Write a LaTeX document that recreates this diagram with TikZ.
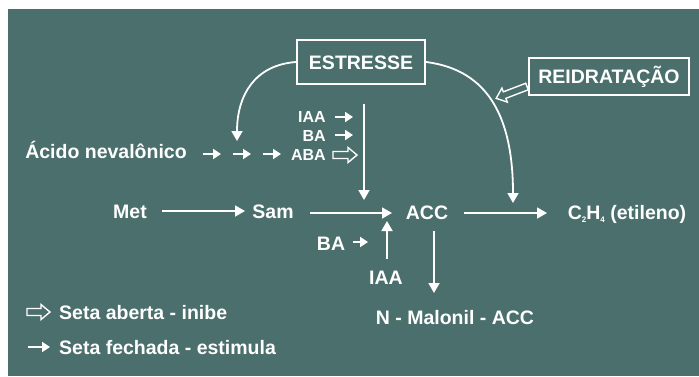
\documentclass[tikz,border=0pt]{standalone}
\usepackage{fontspec}
\setmainfont{Liberation Sans}
\usetikzlibrary{arrows.meta,calc}
\definecolor{bg}{RGB}{74,111,108}
\tikzset{
  lbl/.style={text=white,font=\fontsize{19.5}{20}\selectfont\bfseries,inner sep=0pt,text height=14pt,text depth=0pt},
  slbl/.style={text=white,font=\fontsize{16}{17}\selectfont\bfseries,inner sep=0pt,text height=11.5pt,text depth=0pt},
  box/.style={draw=white,line width=2pt},
  mainarrow/.style={draw=white,line width=1.8pt,-{Triangle[length=10pt,width=11pt]}},
  sarrow/.style={draw=white,line width=2.6pt,-{Triangle[length=8pt,width=10pt]}},
  hollowarrow/.pic={
    \draw[white,line width=1.4pt,fill=bg,line join=miter]
      (0,-3.5) -- (#1-9,-3.5) -- (#1-9,-7.5) -- (#1,0) -- (#1-9,7.5) -- (#1-9,3.5) -- (0,3.5) -- cycle;
  }
}
\begin{document}
\begin{tikzpicture}[x=1pt,y=-1pt]
\useasboundingbox (0,0) rectangle (699,376);
\fill[white] (0,0) rectangle (699,376);
\fill[bg] (8,9) rectangle (699,376);

% boxes
\node[box,lbl,minimum width=128pt,minimum height=44pt] (es) at (361,62) {ESTRESSE};
\node[box,lbl,minimum width=160pt,minimum height=37pt] (rei) at (609,76.5) {REIDRATAÇÃO};

% main labels
\node[lbl] (acid) at (106,151) {Ácido nevalônico};
\node[lbl] (met) at (130,211) {Met};
\node[lbl] (sam) at (273,211) {Sam};
\node[lbl] (acc) at (427,212) {ACC};
\node[lbl] (eth) at (627,212) {C\raisebox{-3pt}{\fontsize{8}{8}\selectfont 2}H\raisebox{-3pt}{\fontsize{8}{8}\selectfont 4} (etileno)};
\node[lbl] (ba2) at (331,243) {BA};
\node[lbl] (iaa2) at (386,277) {IAA};
\node[lbl] (mal) at (455,317) {N - Malonil - ACC};

% small labels
\node[slbl,anchor=east] (iaa1) at (326,117) {IAA};
\node[slbl,anchor=east] (ba1) at (326,136) {BA};
\node[slbl,anchor=east] (aba) at (326,155) {ABA};

% legend
\node[lbl,anchor=west] (leg1) at (59,312) {Seta aberta - inibe};
\node[lbl,anchor=west] (leg2) at (59,347) {Seta fechada - estimula};

% main pathway arrows
\draw[mainarrow] ($(met)+(32,0)$) -- ($(sam)+(-28,0)$);
\draw[mainarrow] ($(sam)+(37,2)$) -- ($(acc)+(-35,1)$);
\draw[mainarrow] ($(acc)+(37,1)$) -- ($(eth)+(-80,1)$);
\draw[mainarrow] ($(acc)+(7,19)$) -- ($(mal)+(-21,-24)$);
\coordinate (vtop) at (364,104);
\draw[mainarrow] (vtop) -- ($(acc)+(-63,-12)$);
\draw[mainarrow] ($(iaa2)+(1,-18)$) -- ($(acc)+(-40,9)$);

% curves from ESTRESSE
\draw[mainarrow] (es.west) .. controls (255,65) and (237,95) .. (237,141);
\draw[mainarrow] (es.east) .. controls (490,70) and (513,120) .. (513,203);

% small stimulating arrows
\draw[sarrow] ($(acid)+(97,3)$) -- ($(acid)+(115,3)$);
\draw[sarrow] ($(acid)+(127,3)$) -- ($(acid)+(145,3)$);
\draw[sarrow] ($(acid)+(157,3)$) -- ($(acid)+(175,3)$);
\draw[sarrow] ($(iaa1.east)+(9,0)$) -- ($(iaa1.east)+(27,0)$);
\draw[sarrow] ($(ba1.east)+(9,-1)$) -- ($(ba1.east)+(27,-1)$);
\draw[sarrow] ($(ba2)+(22,-1)$) -- ($(ba2)+(37,-1)$);

% inhibiting (open) arrows
\pic at ($(aba.east)+(7,0)$) {hollowarrow=24};
\pic[rotate=201] at ($(rei.west)+(-1,10)$) {hollowarrow=33};

% legend arrows
\pic at ($(leg1.west)+(-32,0)$) {hollowarrow=23};
\draw[sarrow] ($(leg2.west)+(-31,0)$) -- ($(leg2.west)+(-9,0)$);
\end{tikzpicture}
\end{document}
